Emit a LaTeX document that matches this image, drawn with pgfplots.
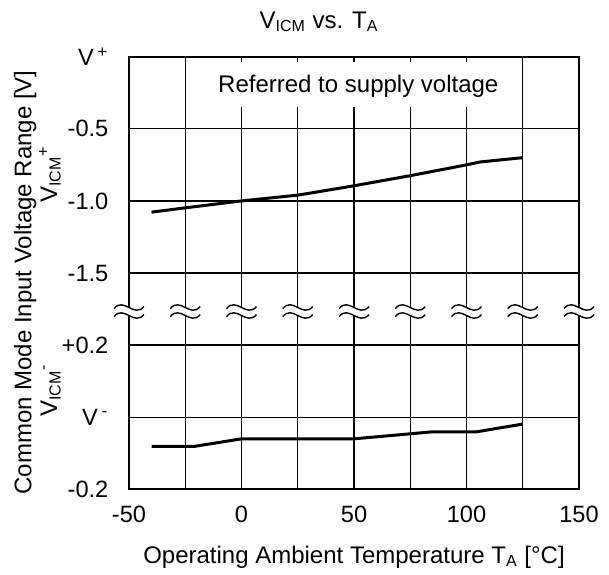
\documentclass[border=0pt]{standalone}
\usepackage{fontspec}
\setmainfont{Liberation Sans}
\usepackage{pgfplots}
\pgfplotsset{compat=1.18}
\usepackage{pgfplotstable}

% upper limit, volts relative to V+
\pgfplotstableread{
T v
-40 -1.078
-25 -1.048
0 -1.0
25 -0.96
50 -0.895
75 -0.825
100 -0.75
106 -0.73
125 -0.70
}\upperdata

% lower limit, volts relative to V-
\pgfplotstableread{
T v
-40 -0.081
-21 -0.081
0 -0.06
50 -0.06
84 -0.041
104 -0.041
125 -0.019
}\lowerdata

\begin{document}
\begin{tikzpicture}[font=\fontsize{12}{14}\selectfont]
\begin{scope}[x=0.5pt,y=-0.5pt]
\useasboundingbox (0,0) rectangle (609,570);
\end{scope}
\begin{axis}[
  at={(64.5pt,-244.65pt)}, anchor=south west,
  width=225pt, height=216.3pt, scale only axis,
  xmin=-50, xmax=150, ymin=0, ymax=6,
  xtick={-50,0,50,100,150}, xticklabels={-50,0,50,100,150},
  minor xtick={-25,25,75,125},
  ytick={0,1,2,3,4,5,6},
  yticklabels={-0.2,V\,\textsuperscript{-},+0.2,-1.5,-1.0,-0.5,V\,\textsuperscript{+}},
  grid=both,
  grid style={black, line width=0.65pt},
  major grid style={black, line width=0.65pt},
  minor grid style={black, line width=0.65pt},
  major tick length=2.5pt, minor tick length=2.5pt,
  tick style={black, line width=0.65pt},
  axis line style={line width=0.9pt},
  tick label style={font=\fontsize{11.8}{14}\selectfont},
  xticklabel style={yshift=-5pt},
  yticklabel style={xshift=-6.8pt},
  clip=false,
]
\addplot[black, line width=1.5pt, line join=round] table[x=T, y expr=6+2*\thisrow{v}] {\upperdata};
\addplot[black, line width=1.5pt, line join=round] table[x=T, y expr=1+5*\thisrow{v}] {\lowerdata};
\fill[white] (axis cs:-12,5.93) rectangle (axis cs:115,5.30);
\pgfplotsinvokeforeach{-50,-25,0,25,50,75,100,125,150}{
  \begin{scope}[shift={(axis cs:#1,2.466)}]
    \fill[white] (-7.5pt,1.5pt) .. controls (-2.5pt,7.5pt) and (2.5pt,-3.5pt) .. (7.5pt,2.5pt)
      -- (7.5pt,-1.5pt) .. controls (2.5pt,-7.5pt) and (-2.5pt,3.5pt) .. (-7.5pt,-2.5pt) -- cycle;
    \draw[black, line width=0.7pt] (-7.5pt,1.5pt) .. controls (-2.5pt,7.5pt) and (2.5pt,-3.5pt) .. (7.5pt,2.5pt);
    \draw[black, line width=0.7pt] (-7.5pt,-2.5pt) .. controls (-2.5pt,3.5pt) and (2.5pt,-7.5pt) .. (7.5pt,-1.5pt);
  \end{scope}
}
\end{axis}
\begin{scope}[x=0.5pt,y=-0.5pt]
\node[anchor=base] at (319,28.3) {V\textsubscript{ICM} vs. T\textsubscript{A}};
\node[anchor=base] at (358.3,92.4) {Referred to supply voltage};
\node[anchor=base] at (354,563) {Operating Ambient Temperature T\textsubscript{A} [°C]};
\node[anchor=base west, rotate=90, inner sep=0pt] at (31.5,495) {Common Mode Input Voltage Range [V]};
\node[anchor=base west, rotate=90, inner sep=0pt] at (57,203) {V\textsubscript{ICM}\textsuperscript{+}};
\node[anchor=base west, rotate=90, inner sep=0pt] at (57,417) {V\textsubscript{ICM}\textsuperscript{-}};
\end{scope}
\end{tikzpicture}
\end{document}
